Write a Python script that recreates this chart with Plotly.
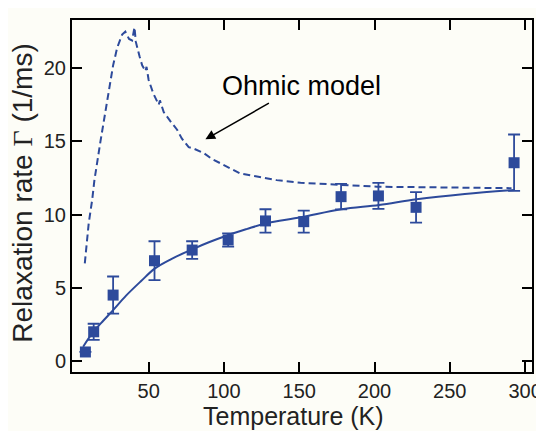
import plotly.graph_objects as go

# Measured data points
temp_pts = [8, 13.5, 26.4, 53.9, 78.9, 102.8, 127.6, 153, 177.8, 202.6, 227.6, 292.7]
rate_pts = [0.6, 1.98, 4.49, 6.84, 7.57, 8.26, 9.56, 9.51, 11.22, 11.27, 10.49, 13.54]
rate_err = [0.0, 0.55, 1.27, 1.33, 0.6, 0.45, 0.8, 0.75, 0.87, 0.89, 1.04, 1.93]

# Fit curve (solid)
fit_t = [6.5, 13.5, 20, 26.4, 35, 45, 54, 65, 79, 90, 103, 115, 128, 151, 178, 203, 228, 260, 293]
fit_r = [0.96, 2.0, 2.75, 3.46, 4.45, 5.45, 6.3, 6.95, 7.62, 8.1, 8.6, 9.0, 9.4, 9.81, 10.36, 10.65, 11.04, 11.4, 11.68]

# Ohmic model (dashed)
ohm_t = [7.6, 10.2, 12.5, 14, 18, 22, 26.4, 29.1, 32.4, 34.5, 37, 39, 40.6, 41.5, 42.4, 44, 45.7,
         47.9, 48.6, 50, 53, 56.7, 57.5, 60, 65, 68.9, 72, 76.6, 80, 86.6, 92, 97.7, 105, 111,
         122, 135, 150.9, 170, 185, 201.7, 220, 240, 260, 275, 288, 291]
ohm_r = [6.66, 9.4, 11.0, 12.36, 15.0, 17.5, 20.2, 21.4, 22.3, 22.5, 22.0, 21.9, 22.8, 21.8, 21.4, 20.8, 20.2,
         19.8, 20.1, 19.2, 18.3, 17.5, 17.8, 17.0, 16.3, 15.8, 15.2, 14.6, 14.5, 14.2, 13.8, 13.5, 13.1, 12.8,
         12.6, 12.35, 12.17, 12.05, 12.0, 11.9, 11.88, 11.85, 11.82, 11.8, 11.79, 11.8]

x_ticks = [50, 100, 150, 200, 250, 300]
y_ticks = [0, 5, 10, 15, 20]

blue = "#2d4a9b"
bg = "#fdfdf7"
font = "Liberation Sans, Arial, sans-serif"

# The page body has an 8px margin; the figure fills the rest of the window
W, H = 536, 423
L, T = 63.5, 11.8
R = W - 523.7
B = H - 363.9
pw = W - L - R
ph = H - T - B


def px_x(p):
    return (p - L) / pw


def px_y(p):
    return 1 - (p - T) / ph


fig = go.Figure()
fig.add_trace(go.Scatter(x=ohm_t, y=ohm_r, mode="lines",
                         line=dict(color=blue, width=2, dash="7px,4px"), showlegend=False))
fig.add_trace(go.Scatter(x=fit_t, y=fit_r, mode="lines", line_shape="spline",
                         line=dict(color=blue, width=2), showlegend=False))
fig.add_trace(go.Scatter(x=temp_pts, y=rate_pts, mode="markers",
                         marker=dict(symbol="square", size=11, color=blue),
                         error_y=dict(type="data", array=rate_err, color=blue, thickness=1.8, width=6),
                         showlegend=False))

fig.add_annotation(x=87.7, y=15.14, ax=65, ay=-37, xref="x", yref="y",
                   showarrow=True, arrowhead=2, arrowsize=1.3, arrowwidth=1.5, arrowcolor="black",
                   text="")
fig.add_annotation(x=px_x(293), y=px_y(78), xref="paper", yref="paper", text="Ohmic model",
                   xanchor="center", yanchor="middle",
                   showarrow=False, font=dict(family=font, size=27, color="black"))
fig.add_annotation(x=px_x(285), y=px_y(408), xref="paper", yref="paper", text="Temperature (K)",
                   xanchor="center", yanchor="middle",
                   showarrow=False, font=dict(family=font, size=25, color="#222"))
fig.add_annotation(x=px_x(14), y=px_y(185), xref="paper", yref="paper", textangle=-90,
                   xanchor="center", yanchor="middle",
                   text="Relaxation rate <span style=\"font-family:'Liberation Serif'\">Γ</span> (1/ms)",
                   showarrow=False, font=dict(family=font, size=28, color="#222"))

axis_common = dict(showline=True, linecolor="black", linewidth=2, mirror="allticks",
                   ticks="inside", ticklen=10, tickwidth=2, tickcolor="black",
                   showgrid=False, zeroline=False, automargin=False,
                   ticklabeloverflow="allow",
                   tickfont=dict(family=font, size=20, color="#222"))

fig.update_xaxes(range=[-0.9, 304.6], tickvals=x_ticks, **axis_common)
fig.update_yaxes(range=[-0.77, 23.3], tickvals=y_ticks, **axis_common)

fig.update_layout(width=W, height=H,
                  margin=dict(l=L, r=R, t=T, b=B),
                  paper_bgcolor=bg, plot_bgcolor=bg)

fig.write_html("out.html")
